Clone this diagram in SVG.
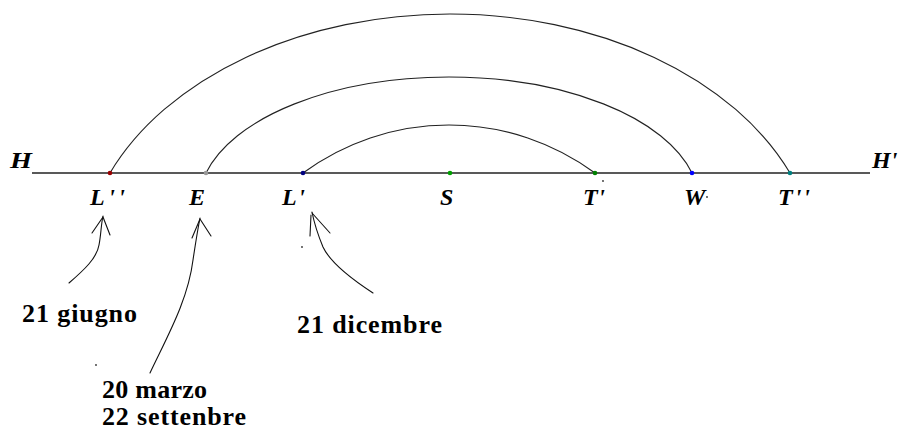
<svg xmlns="http://www.w3.org/2000/svg" width="900" height="432" viewBox="0 0 900 432">
<style>
.lbl{font-family:"Liberation Serif",serif;font-weight:bold;font-style:italic;font-size:24px;fill:#000}
.txt{font-family:"Liberation Serif",serif;font-weight:bold;font-size:26px;fill:#000}
.hz{fill:none;stroke:#222;stroke-width:1.6}
.ln{fill:none;stroke:#222;stroke-width:1.1}
.ar{fill:none;stroke:#111;stroke-width:1.1;stroke-linecap:round}
.sd{fill:#333}
</style>
<rect width="900" height="432" fill="#fff"/>
<g id="connectors">
<line class="hz" x1="32" y1="173" x2="870" y2="173"/>
<path class="ln" d="M110,173 A368.6,259 0 0 1 790,173"/>
<path class="ln" d="M206,173 A250.2,126 0 0 1 692,173"/>
<path class="ln" d="M303,173 A246,246 0 0 1 595,173"/>
<path class="ar" d="M69,283 C84,270 97,258 99,245 C101,235 101,225 103,216"/>
<path class="ar" d="M103,217 L92,233 M103,217 L110,235"/>
<path class="ar" d="M150,373 C168,335 188,300 193,260 C196,240 198,228 200,218"/>
<path class="ar" d="M200,219 L192,238 M200,219 L211,236"/>
<path class="ar" d="M373,293 C350,278 330,262 323,247 C318,235 314,222 312,212"/>
<path class="ar" d="M311,215 L310,236 M312,213 L330,233"/>
</g>
<g id="strays">
<circle class="sd" cx="302" cy="247" r="0.9"/>
<circle class="sd" cx="96" cy="365" r="0.9"/>
<circle class="sd" cx="603" cy="181" r="0.9"/>
<circle class="sd" cx="707" cy="197" r="0.9"/>
</g>
<g id="H"><text class="lbl" x="10" y="168" textLength="22" lengthAdjust="spacingAndGlyphs">H</text></g>
<g id="H2"><text class="lbl" x="872" y="168">H'</text></g>
<g id="Lpp"><circle cx="110" cy="173" r="2.3" fill="#990000"/><text class="lbl" x="90" y="205" textLength="35">L''</text></g>
<g id="E"><circle cx="206" cy="173" r="2.3" fill="#999999"/><text class="lbl" x="189" y="205">E</text></g>
<g id="Lp"><circle cx="303" cy="173" r="2.3" fill="#000080"/><text class="lbl" x="282" y="205" textLength="23">L'</text></g>
<g id="S"><circle cx="450" cy="173" r="2.3" fill="#00a000"/><text class="lbl" x="440" y="205">S</text></g>
<g id="Tp"><circle cx="595" cy="173" r="2.3" fill="#008000"/><text class="lbl" x="583" y="205" textLength="22">T'</text></g>
<g id="W"><circle cx="692" cy="173" r="2.3" fill="#0000ff"/><text class="lbl" x="684" y="205">W</text></g>
<g id="Tpp"><circle cx="790" cy="173" r="2.3" fill="#008080"/><text class="lbl" x="778" y="205" textLength="32">T''</text></g>
<g id="giugno"><text class="txt" x="22" y="322" textLength="115">21 giugno</text></g>
<g id="dicembre"><text class="txt" x="297" y="333" textLength="145">21 dicembre</text></g>
<g id="marzo"><text class="txt" x="102" y="398" textLength="105">20 marzo</text><text class="txt" x="102" y="425" textLength="144">22 settenbre</text></g>
</svg>
